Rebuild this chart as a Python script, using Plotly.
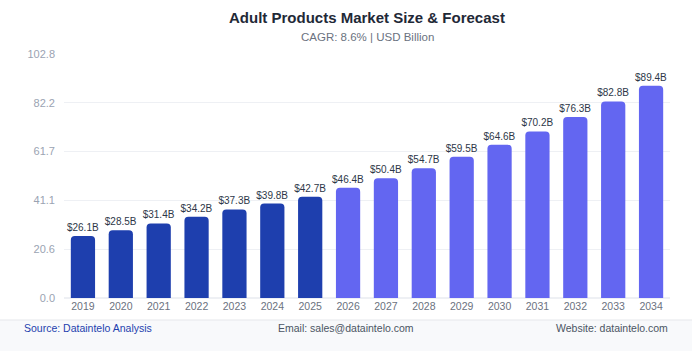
import plotly.graph_objects as go

years = [str(y) for y in range(2019, 2035)]
values = [26.1, 28.5, 31.4, 34.2, 37.3, 39.8, 42.7, 46.4, 50.4, 54.7, 59.5, 64.6, 70.2, 76.3, 82.8, 89.4]
labels = ["$%.1fB" % v for v in values]
hist_color = "#1e3fae"
fc_color = "#6366f1"
colors = [hist_color if int(y) <= 2025 else fc_color for y in years]
y_max = 102.8
tick_vals = [0, 20.56, 41.12, 61.68, 82.24, 102.8]
tick_text = ["0.0", "20.6", "41.1", "61.7", "82.2", "102.8"]

fig = go.Figure()
fig.add_trace(go.Bar(
    x=years, y=values, marker=dict(color=colors, cornerradius=4, line=dict(width=0)),
    text=labels, textposition="outside", cliponaxis=False, constraintext="none",
    textfont=dict(size=10, color="#2d3748", family="Liberation Sans, Arial"),
    hoverinfo="skip",
))

fig.update_layout(
    width=692, height=351,
    margin=dict(l=64, r=22, t=54, b=53),
    paper_bgcolor="white", plot_bgcolor="white",
    bargap=0.36,
    showlegend=False,
    font=dict(family="Liberation Sans, Arial", color="#9aa3b2", size=11),
    xaxis=dict(showgrid=False, showline=False, ticks="", tickfont=dict(size=10.5, color="#6b7280")),
    yaxis=dict(range=[0, y_max], tickvals=tick_vals, ticktext=tick_text, showgrid=True,
               gridcolor="#eef0f4", gridwidth=1, zeroline=True, zerolinecolor="#eef0f4",
               showline=False, ticks="", ticklabelstandoff=8,
               tickfont=dict(size=11, color="#9aa3b2")),
    shapes=[
        dict(type="rect", xref="paper", yref="paper", x0=-0.2, x1=1.2,
             y0=-53/244, y1=-22/244, fillcolor="#f8f9fb", line=dict(width=0), layer="below"),
        dict(type="line", xref="paper", yref="paper", x0=-0.2, x1=1.2,
             y0=-22/244, y1=-22/244, line=dict(color="#e5e7eb", width=1)),
    ],
    annotations=[
        dict(text="<b>Adult Products Market Size & Forecast</b>", xref="paper", yref="paper",
             x=0.5, xanchor="center", y=1 + 37/244, yanchor="middle", showarrow=False,
             font=dict(size=15, color="#1f2937")),
        dict(text="CAGR: 8.6% | USD Billion", xref="paper", yref="paper",
             x=0.5, xanchor="center", y=1 + 17/244, yanchor="middle", showarrow=False,
             font=dict(size=11.5, color="#6b7280")),
        dict(text="Source: Dataintelo Analysis", xref="paper", yref="paper",
             x=-42/606, xanchor="left", y=-30/244, yanchor="middle", showarrow=False,
             font=dict(size=10.5, color="#1e3fae")),
        dict(text="Email: sales@dataintelo.com", xref="paper", yref="paper",
             x=(346-64)/606, xanchor="center", y=-30/244, yanchor="middle", showarrow=False,
             font=dict(size=10.5, color="#4b5563")),
        dict(text="Website: dataintelo.com", xref="paper", yref="paper",
             x=1.0, xanchor="right", y=-30/244, yanchor="middle", showarrow=False,
             font=dict(size=10.5, color="#4b5563")),
    ],
)

fig.write_html("out.html")
